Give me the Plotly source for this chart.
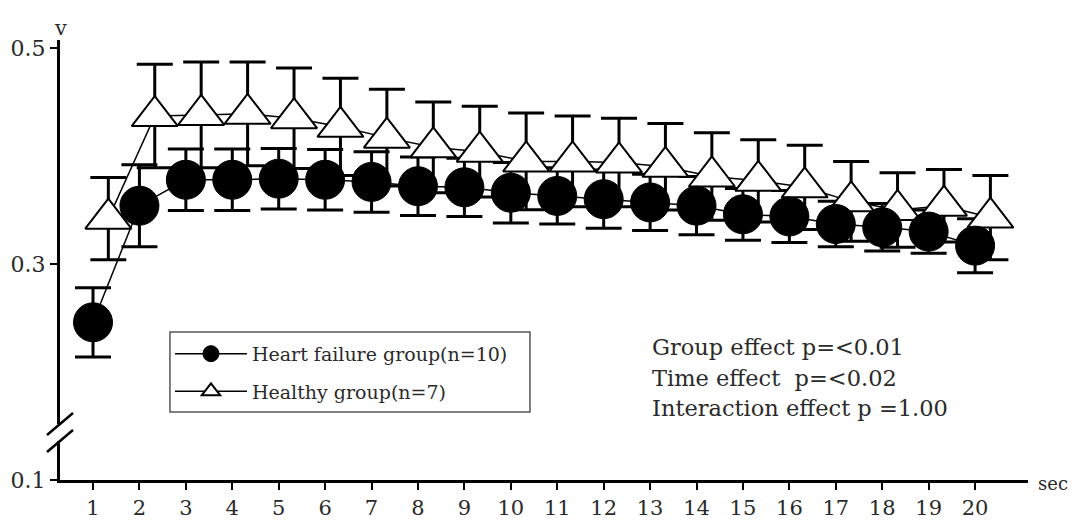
import plotly.graph_objects as go

# ---- data ----
seconds = list(range(1, 21))
hf_mean = [0.246, 0.354, 0.378, 0.378, 0.379, 0.378, 0.376, 0.372, 0.371, 0.366,
           0.363, 0.360, 0.357, 0.354, 0.346, 0.344, 0.337, 0.334, 0.330, 0.317]
hf_se = [0.032, 0.038, 0.0285, 0.0285, 0.028, 0.028, 0.028, 0.027, 0.027, 0.028,
         0.026, 0.027, 0.026, 0.027, 0.024, 0.024, 0.021, 0.022, 0.020, 0.025]
healthy_mean = [0.342, 0.437, 0.438, 0.439, 0.435, 0.427, 0.417, 0.408, 0.404, 0.395,
                0.395, 0.394, 0.390, 0.381, 0.377, 0.371, 0.358, 0.350, 0.354, 0.343]
healthy_se = [0.038, 0.048, 0.049, 0.048, 0.0465, 0.045, 0.0447, 0.042, 0.042, 0.0447,
              0.042, 0.041, 0.040, 0.0405, 0.038, 0.039, 0.037, 0.0346, 0.0336, 0.039]
y_ticks = [0.1, 0.3, 0.5]
hf_name = "Heart failure group(n=10)"
healthy_name = "Healthy group(n=7)"
stats_lines = ["Group effect p=&lt;0.01",
               "Time effect&nbsp; p=&lt;0.02",
               "Interaction effect p =1.00"]

# ---- style ----
FONT = "DejaVu Serif"
TXT = "#2a2a2a"
dodge = 0.33  # horizontal offset of the healthy group symbols
healthy_x = [s + dodge for s in seconds]

fig = go.Figure()

# error bars first (drawn under all symbols)
fig.add_trace(go.Scatter(
    x=healthy_x, y=healthy_mean, mode="markers",
    marker=dict(size=1, color="rgba(0,0,0,0)"),
    error_y=dict(type="data", array=healthy_se, visible=True,
                 color="black", thickness=3, width=18),
    showlegend=False, hoverinfo="skip"))
fig.add_trace(go.Scatter(
    x=seconds, y=hf_mean, mode="markers",
    marker=dict(size=1, color="rgba(0,0,0,0)"),
    error_y=dict(type="data", array=hf_se, visible=True,
                 color="black", thickness=3, width=18),
    showlegend=False, hoverinfo="skip"))

# symbols + connecting lines
fig.add_trace(go.Scatter(
    x=healthy_x, y=healthy_mean, mode="lines+markers", name=healthy_name,
    line=dict(color="black", width=1.5),
    marker=dict(symbol="triangle-up", size=40, color="white",
                line=dict(color="black", width=2)),
    legendrank=2, legendgroup="b"))
fig.add_trace(go.Scatter(
    x=seconds, y=hf_mean, mode="lines+markers", name=hf_name,
    line=dict(color="black", width=1.5),
    marker=dict(symbol="circle", size=39, color="black",
                line=dict(color="black", width=1)),
    legendrank=1, legendgroup="a"))

# axis break (gap + two slashes on the y axis)
brk_hi, brk_lo = 0.1519, 0.1361
fig.add_shape(type="rect", xref="paper", yref="y", layer="above",
              xsizemode="pixel", xanchor=0, x0=-4, x1=4,
              y0=brk_lo, y1=brk_hi, fillcolor="white", line=dict(width=0))
for yb in (brk_hi, brk_lo):
    fig.add_shape(type="line", xref="paper", yref="y", layer="above",
                  xsizemode="pixel", xanchor=0, x0=-13, x1=13,
                  ysizemode="pixel", yanchor=yb, y0=-11, y1=11,
                  line=dict(color="black", width=2.5))

# legend frame
fig.add_shape(type="rect", xref="paper", yref="paper", layer="above",
              x0=0.1136, x1=0.4855, y0=0.1545, y1=0.3364,
              line=dict(color="#555555", width=1.5), fillcolor="rgba(0,0,0,0)")

# statistics text
stats_y = [0.302, 0.232, 0.1636]
for txt, yy in zip(stats_lines, stats_y):
    fig.add_annotation(text=txt, xref="paper", yref="paper", x=0.6095, y=yy,
                       xanchor="left", yanchor="middle", showarrow=False,
                       font=dict(family=FONT, size=22.5, color=TXT))

# axis titles
fig.add_annotation(text="v", xref="paper", yref="paper", x=0.001, y=1.0,
                   xanchor="center", yanchor="bottom", yshift=-2, showarrow=False,
                   font=dict(family=FONT, size=21, color=TXT))
fig.add_annotation(text="sec", xref="paper", yref="paper", x=1.0083, y=0.0,
                   xanchor="left", yanchor="middle", yshift=-3, showarrow=False,
                   font=dict(family=FONT, size=18, color=TXT))

# the page body adds an 8px offset, so the figure is 8px smaller
fig.update_layout(
    width=1068, height=515,
    margin=dict(l=52, r=48, t=32, b=43),
    paper_bgcolor="white", plot_bgcolor="white",
    font=dict(family=FONT, color=TXT),
    showlegend=True,
    legend=dict(x=0.1136, y=0.330, xanchor="left", yanchor="top",
                borderwidth=0, bgcolor="rgba(0,0,0,0)",
                font=dict(family=FONT, size=19, color=TXT),
                itemwidth=72, tracegroupgap=10, traceorder="grouped"),
)
fig.update_xaxes(range=[0.289, 21.14], tickvals=seconds,
                 ticktext=[str(s) for s in seconds], automargin=False,
                 showline=True, linecolor="black", linewidth=3,
                 ticks="outside", ticklen=7, tickwidth=2, tickcolor="black",
                 showgrid=False, zeroline=False,
                 tickfont=dict(family=FONT, size=21, color=TXT))
fig.update_yaxes(range=[0.1, 0.5074], tickvals=y_ticks,
                 ticktext=[str(v) for v in y_ticks], automargin=False,
                 showline=True, linecolor="black", linewidth=3,
                 ticks="outside", ticklen=7, tickwidth=2, tickcolor="black",
                 showgrid=False, zeroline=False,
                 tickfont=dict(family=FONT, size=22, color=TXT))

fig.write_html("out.html")
